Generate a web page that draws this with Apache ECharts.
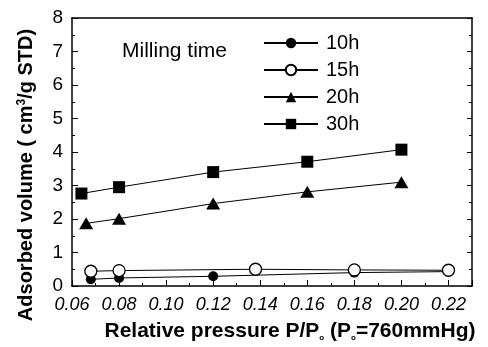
<!DOCTYPE html>
<html>
<head>
<meta charset="utf-8">
<script src="https://cdn.jsdelivr.net/npm/echarts@6/dist/echarts.min.js"></script>
<style>html,body{margin:0;padding:0;background:#fff}#c{width:488px;height:347px}</style>
</head>
<body>
<div id="c"></div>
<script>
const seriesNames = ['10h', '15h', '20h', '30h'];
const x10 = [0.068, 0.08, 0.12, 0.18, 0.22];
const y10 = [0.20, 0.24, 0.29, 0.40, 0.43];
const x15 = [0.068, 0.08, 0.138, 0.18, 0.22];
const y15 = [0.44, 0.46, 0.50, 0.48, 0.47];
const x20 = [0.066, 0.08, 0.12, 0.16, 0.20];
const y20 = [1.87, 2.01, 2.46, 2.81, 3.10];
const x30 = [0.064, 0.08, 0.12, 0.16, 0.20];
const y30 = [2.76, 2.95, 3.40, 3.71, 4.07];
const xTicks = [0.06, 0.08, 0.10, 0.12, 0.14, 0.16, 0.18, 0.20, 0.22];
const yTicks = [0, 1, 2, 3, 4, 5, 6, 7, 8];

const pair = (xs, ys) => xs.map((x, i) => [x, ys[i]]);
const FONT = '"Liberation Sans", Arial, sans-serif';
const chart = echarts.init(document.getElementById('c'), null, {renderer: 'canvas'});

const common = {type: 'line', lineStyle: {color: '#000', width: 1}, symbolSize: 11};
const option = {
  animation: false,
  backgroundColor: '#fff',
  grid: {left: 72, right: 16, top: 18, bottom: 59},
  legend: {
    orient: 'vertical', left: 263, top: 33, padding: 0,
    itemWidth: 54, itemHeight: 13, itemGap: 7,
    textStyle: {fontFamily: FONT, fontSize: 20, color: '#000', padding: [0, 0, 0, 3]},
    data: seriesNames
  },
  graphic: [{
    type: 'text', left: 122, top: 41,
    style: {text: 'Milling time', font: '21px ' + FONT, fill: '#000'}
  }],
  xAxis: [{
    type: 'value', min: 0.06, max: 0.23, interval: 0.02,
    axisLine: {lineStyle: {color: '#000', width: 1.5}},
    axisTick: {inside: true, length: 6, lineStyle: {color: '#000'}},
    minorTick: {show: true, splitNumber: 2, length: 3, lineStyle: {color: '#000'}},
    splitLine: {show: false},
    axisLabel: {
      fontFamily: FONT, fontSize: 18, fontStyle: 'italic', color: '#000', margin: 10,
      showMaxLabel: false,
      formatter: v => { const t = xTicks.find(k => Math.abs(k - v) < 1e-6); return t === undefined ? '' : t.toFixed(2); }
    },
    name: 'Relative pressure P/P{sub|o} (P{sub|o}=760mmHg)',
    nameLocation: 'middle', nameGap: 35,
    nameTextStyle: {
      fontFamily: FONT, fontSize: 21, fontWeight: 'bold', color: '#000', padding: [0, 0, 0, 36],
      rich: {sub: {fontFamily: FONT, fontSize: 8, fontWeight: 'bold', verticalAlign: 'bottom', padding: [11, 0, 0, 0]}}
    }
  }, {
    type: 'value', position: 'top', min: 0.06, max: 0.23,
    axisLine: {onZero: false, lineStyle: {color: '#000', width: 1.5}},
    axisTick: {show: false}, axisLabel: {show: false}, splitLine: {show: false}
  }],
  yAxis: [{
    type: 'value', min: 0, max: 8, interval: 1,
    axisLine: {onZero: false, lineStyle: {color: '#000', width: 1.5}},
    axisTick: {inside: true, length: 6, lineStyle: {color: '#000'}},
    minorTick: {show: true, splitNumber: 2, length: 3, lineStyle: {color: '#000'}},
    splitLine: {show: false},
    axisLabel: {fontFamily: FONT, fontSize: 19, color: '#000', margin: 9,
      formatter: v => String(yTicks.find(k => k === v) ?? '')},
    name: 'Adsorbed volume ( cm{sup|3}/g STD)',
    nameLocation: 'middle', nameGap: 36, nameRotate: 90,
    nameTextStyle: {
      fontFamily: FONT, fontSize: 20, fontWeight: 'bold', color: '#000', padding: [0, 46, 0, 0],
      rich: {sup: {fontFamily: FONT, fontSize: 12, fontWeight: 'bold', verticalAlign: 'top', padding: [0, 0, 8, 0]}}
    }
  }, {
    type: 'value', position: 'right', min: 0, max: 8, interval: 1,
    axisLine: {onZero: false, lineStyle: {color: '#000', width: 1.5}},
    axisTick: {inside: true, length: 5, lineStyle: {color: '#000'}},
    minorTick: {show: true, splitNumber: 2, length: 3, lineStyle: {color: '#000'}},
    axisLabel: {show: false}, splitLine: {show: false}
  }],
  series: [
    Object.assign({}, common, {name: '10h', symbol: 'circle', symbolSize: 10,
      itemStyle: {color: '#000'}, data: pair(x10, y10)}),
    Object.assign({}, common, {name: '15h', symbol: 'circle', symbolSize: 12,
      itemStyle: {color: '#fff', borderColor: '#000', borderWidth: 1.3}, data: pair(x15, y15)}),
    Object.assign({}, common, {name: '20h', symbol: 'triangle', symbolSize: [14, 12],
      itemStyle: {color: '#000'}, data: pair(x20, y20)}),
    Object.assign({}, common, {name: '30h', symbol: 'rect', symbolSize: 12,
      itemStyle: {color: '#000'}, data: pair(x30, y30)})
  ]
};
chart.setOption(option);
</script>
</body>
</html>
